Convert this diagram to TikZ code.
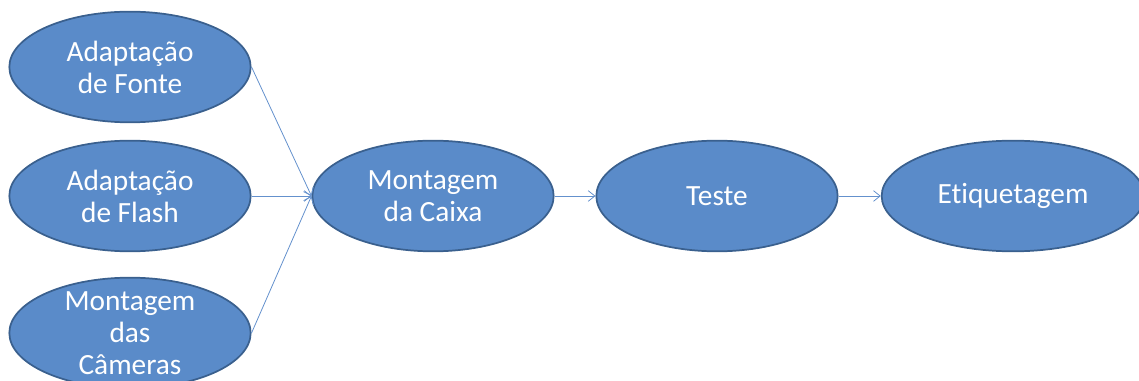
\documentclass[tikz,border=0pt]{standalone}
\usepackage{fontspec}
\setmainfont{Carlito}[Ligatures=NoCommon]
\usetikzlibrary{shapes.geometric,arrows.meta}
\definecolor{etapafill}{RGB}{90,139,201}
\definecolor{etapaline}{RGB}{58,96,142}
\definecolor{setacor}{RGB}{100,145,205}

\begin{document}
\begin{tikzpicture}[x=0.75pt,y=-0.75pt,
    etapa/.style={ellipse,draw=etapaline,line width=1.3pt,fill=etapafill,
        text=white,align=center,inner sep=0pt,
        minimum width=181pt,minimum height=83pt,
        font=\fontsize{22}{24}\selectfont},
    seta/.style={draw=setacor,line width=0.6pt,-{Straight Barb[length=5pt,width=8pt]}}]
    \useasboundingbox (0,0) rectangle (1139,381);
    % etapas de entrada
    \node[etapa] (fonte) at (130,67) {Adaptação\\de Fonte};
    \node[etapa] (flash) at (130,196) {Adaptação\\de Flash};
    \node[etapa,inner ysep=-7pt] (cameras) at (130,333) {Montagem\\das\\Câmeras};
    % linha principal
    \node[etapa] (caixa) at (433,196) {Montagem\\da Caixa};
    \node[etapa] (teste) at (717,196) {Teste};
    \node[etapa,minimum width=197pt] (etiq) at (1013,196) {Etiquetagem};
    % setas
    \foreach \n in {fonte,flash,cameras}
        \draw[seta] (\n.east) -- (caixa.west);
    \draw[seta] (caixa) -- (teste);
    \draw[seta] (teste) -- (etiq);
\end{tikzpicture}
\end{document}
